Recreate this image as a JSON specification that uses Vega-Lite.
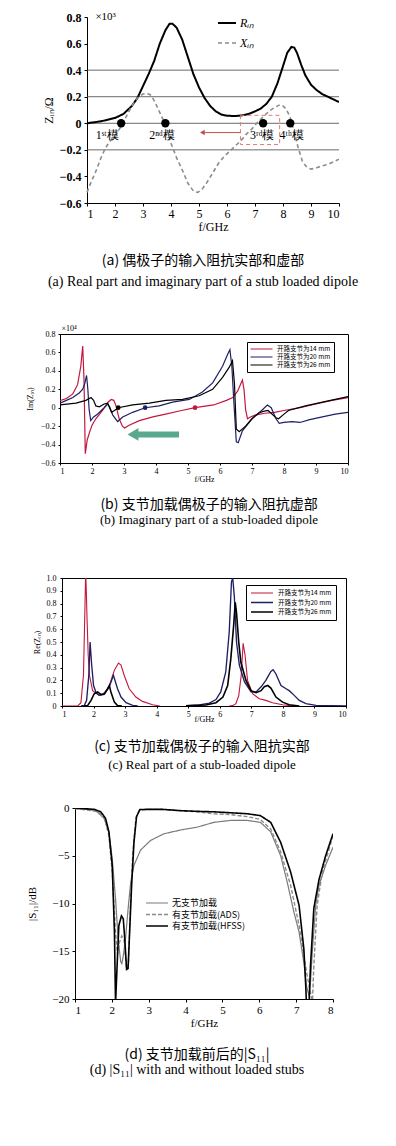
{
"$schema": "https://vega.github.io/schema/vega-lite/v6.json",
"background": "white",
"padding": {"left": 25, "top": 11, "right": 0, "bottom": 0},
"bounds": "flush",
"center": true,
"spacing": 0,
"resolve": {"scale": {"color": "independent", "strokeDash": "independent", "strokeWidth": "independent", "fill": "independent", "x": "independent", "y": "independent"}, "legend": {"color": "independent", "strokeDash": "independent", "strokeWidth": "independent", "fill": "independent"}},
"config": {
 "view": {"stroke": null},
 "font": "Liberation Serif",
 "axis": {"domainColor": "black", "tickColor": "black", "labelColor": "black", "titleColor": "black", "grid": false, "titleFontWeight": "normal", "labelFont": "Liberation Serif", "titleFont": "Liberation Serif", "labelOverlap": false}
},
"datasets": {
 "a": [
  {"s":"Rᵢₙ","f":1.0,"v":0.0},{"s":"Rᵢₙ","f":1.5,"v":0.015},{"s":"Rᵢₙ","f":2.0,"v":0.04},{"s":"Rᵢₙ","f":2.3,"v":0.07},{"s":"Rᵢₙ","f":2.6,"v":0.13},{"s":"Rᵢₙ","f":2.8,"v":0.19},{"s":"Rᵢₙ","f":3.0,"v":0.28},{"s":"Rᵢₙ","f":3.2,"v":0.37},{"s":"Rᵢₙ","f":3.4,"v":0.47},{"s":"Rᵢₙ","f":3.6,"v":0.6},{"s":"Rᵢₙ","f":3.8,"v":0.7},{"s":"Rᵢₙ","f":3.95,"v":0.75},{"s":"Rᵢₙ","f":4.05,"v":0.75},{"s":"Rᵢₙ","f":4.2,"v":0.72},{"s":"Rᵢₙ","f":4.4,"v":0.63},{"s":"Rᵢₙ","f":4.6,"v":0.5},{"s":"Rᵢₙ","f":4.8,"v":0.37},{"s":"Rᵢₙ","f":5.0,"v":0.27},{"s":"Rᵢₙ","f":5.2,"v":0.19},{"s":"Rᵢₙ","f":5.4,"v":0.13},{"s":"Rᵢₙ","f":5.6,"v":0.09},{"s":"Rᵢₙ","f":5.8,"v":0.065},{"s":"Rᵢₙ","f":6.0,"v":0.057},{"s":"Rᵢₙ","f":6.2,"v":0.055},{"s":"Rᵢₙ","f":6.4,"v":0.056},{"s":"Rᵢₙ","f":6.6,"v":0.062},{"s":"Rᵢₙ","f":6.8,"v":0.072},{"s":"Rᵢₙ","f":7.0,"v":0.09},{"s":"Rᵢₙ","f":7.2,"v":0.11},{"s":"Rᵢₙ","f":7.4,"v":0.145},{"s":"Rᵢₙ","f":7.6,"v":0.2},{"s":"Rᵢₙ","f":7.8,"v":0.3},{"s":"Rᵢₙ","f":8.0,"v":0.43},{"s":"Rᵢₙ","f":8.15,"v":0.53},{"s":"Rᵢₙ","f":8.3,"v":0.575},{"s":"Rᵢₙ","f":8.4,"v":0.57},{"s":"Rᵢₙ","f":8.5,"v":0.53},{"s":"Rᵢₙ","f":8.65,"v":0.44},{"s":"Rᵢₙ","f":8.8,"v":0.36},{"s":"Rᵢₙ","f":9.0,"v":0.29},{"s":"Rᵢₙ","f":9.2,"v":0.25},{"s":"Rᵢₙ","f":9.4,"v":0.22},{"s":"Rᵢₙ","f":9.6,"v":0.2},{"s":"Rᵢₙ","f":9.8,"v":0.18},{"s":"Rᵢₙ","f":10.0,"v":0.16},
  {"s":"Xᵢₙ","f":1.0,"v":-0.52},{"s":"Xᵢₙ","f":1.15,"v":-0.44},{"s":"Xᵢₙ","f":1.3,"v":-0.37},{"s":"Xᵢₙ","f":1.5,"v":-0.26},{"s":"Xᵢₙ","f":1.65,"v":-0.19},{"s":"Xᵢₙ","f":1.8,"v":-0.14},{"s":"Xᵢₙ","f":2.0,"v":-0.09},{"s":"Xᵢₙ","f":2.2,"v":-0.03},{"s":"Xᵢₙ","f":2.4,"v":0.05},{"s":"Xᵢₙ","f":2.6,"v":0.13},{"s":"Xᵢₙ","f":2.8,"v":0.19},{"s":"Xᵢₙ","f":3.0,"v":0.22},{"s":"Xᵢₙ","f":3.15,"v":0.225},{"s":"Xᵢₙ","f":3.3,"v":0.21},{"s":"Xᵢₙ","f":3.45,"v":0.15},{"s":"Xᵢₙ","f":3.6,"v":0.08},{"s":"Xᵢₙ","f":3.8,"v":-0.01},{"s":"Xᵢₙ","f":4.0,"v":-0.15},{"s":"Xᵢₙ","f":4.2,"v":-0.26},{"s":"Xᵢₙ","f":4.4,"v":-0.35},{"s":"Xᵢₙ","f":4.6,"v":-0.45},{"s":"Xᵢₙ","f":4.8,"v":-0.51},{"s":"Xᵢₙ","f":4.95,"v":-0.52},{"s":"Xᵢₙ","f":5.1,"v":-0.5},{"s":"Xᵢₙ","f":5.3,"v":-0.44},{"s":"Xᵢₙ","f":5.5,"v":-0.37},{"s":"Xᵢₙ","f":5.7,"v":-0.3},{"s":"Xᵢₙ","f":5.9,"v":-0.25},{"s":"Xᵢₙ","f":6.1,"v":-0.21},{"s":"Xᵢₙ","f":6.3,"v":-0.17},{"s":"Xᵢₙ","f":6.5,"v":-0.13},{"s":"Xᵢₙ","f":6.7,"v":-0.08},{"s":"Xᵢₙ","f":6.9,"v":-0.04},{"s":"Xᵢₙ","f":7.1,"v":0.01},{"s":"Xᵢₙ","f":7.3,"v":0.05},{"s":"Xᵢₙ","f":7.5,"v":0.09},{"s":"Xᵢₙ","f":7.7,"v":0.12},{"s":"Xᵢₙ","f":7.9,"v":0.14},{"s":"Xᵢₙ","f":8.0,"v":0.13},{"s":"Xᵢₙ","f":8.1,"v":0.11},{"s":"Xᵢₙ","f":8.25,"v":0.05},{"s":"Xᵢₙ","f":8.4,"v":-0.07},{"s":"Xᵢₙ","f":8.55,"v":-0.19},{"s":"Xᵢₙ","f":8.7,"v":-0.29},{"s":"Xᵢₙ","f":8.85,"v":-0.33},{"s":"Xᵢₙ","f":9.0,"v":-0.345},{"s":"Xᵢₙ","f":9.2,"v":-0.335},{"s":"Xᵢₙ","f":9.4,"v":-0.32},{"s":"Xᵢₙ","f":9.6,"v":-0.31},{"s":"Xᵢₙ","f":9.8,"v":-0.29},{"s":"Xᵢₙ","f":10.0,"v":-0.27}
 ],
 "amodes": [
  {"f":2.22,"lf":1.72,"v":0,"m":"1ˢᵗ模"},{"f":3.8,"lf":3.68,"v":0,"m":"2ⁿᵈ模"},{"f":7.29,"lf":7.26,"v":0,"m":"3ʳᵈ模"},{"f":8.26,"lf":8.31,"v":0,"m":"4ᵗʰ模"}
 ],
 "b": [
  {"s":"开路支节为14 mm","f":1.0,"v":0.077},{"s":"开路支节为14 mm","f":1.2,"v":0.1},{"s":"开路支节为14 mm","f":1.4,"v":0.15},{"s":"开路支节为14 mm","f":1.55,"v":0.25},{"s":"开路支节为14 mm","f":1.65,"v":0.45},{"s":"开路支节为14 mm","f":1.71,"v":0.67},{"s":"开路支节为14 mm","f":1.75,"v":0.3},{"s":"开路支节为14 mm","f":1.79,"v":-0.5},{"s":"开路支节为14 mm","f":1.85,"v":-0.35},{"s":"开路支节为14 mm","f":1.92,"v":-0.27},{"s":"开路支节为14 mm","f":2.0,"v":-0.19},{"s":"开路支节为14 mm","f":2.12,"v":-0.12},{"s":"开路支节为14 mm","f":2.33,"v":-0.03},{"s":"开路支节为14 mm","f":2.5,"v":0.06},{"s":"开路支节为14 mm","f":2.6,"v":0.09},{"s":"开路支节为14 mm","f":2.68,"v":0.08},{"s":"开路支节为14 mm","f":2.75,"v":0.02},{"s":"开路支节为14 mm","f":2.85,"v":-0.12},{"s":"开路支节为14 mm","f":2.95,"v":-0.2},{"s":"开路支节为14 mm","f":3.02,"v":-0.22},{"s":"开路支节为14 mm","f":3.16,"v":-0.19},{"s":"开路支节为14 mm","f":3.48,"v":-0.14},{"s":"开路支节为14 mm","f":3.9,"v":-0.1},{"s":"开路支节为14 mm","f":4.3,"v":-0.07},{"s":"开路支节为14 mm","f":4.8,"v":-0.03},{"s":"开路支节为14 mm","f":5.22,"v":0.0},{"s":"开路支节为14 mm","f":5.8,"v":0.03},{"s":"开路支节为14 mm","f":6.2,"v":0.08},{"s":"开路支节为14 mm","f":6.4,"v":0.11},{"s":"开路支节为14 mm","f":6.55,"v":0.18},{"s":"开路支节为14 mm","f":6.65,"v":0.26},{"s":"开路支节为14 mm","f":6.7,"v":0.3},{"s":"开路支节为14 mm","f":6.75,"v":0.2},{"s":"开路支节为14 mm","f":6.8,"v":-0.02},{"s":"开路支节为14 mm","f":6.86,"v":-0.12},{"s":"开路支节为14 mm","f":6.95,"v":-0.1},{"s":"开路支节为14 mm","f":7.1,"v":-0.08},{"s":"开路支节为14 mm","f":7.4,"v":-0.06},{"s":"开路支节为14 mm","f":7.7,"v":-0.05},{"s":"开路支节为14 mm","f":8.0,"v":-0.03},{"s":"开路支节为14 mm","f":8.5,"v":0.0},{"s":"开路支节为14 mm","f":9.0,"v":0.04},{"s":"开路支节为14 mm","f":9.5,"v":0.08},{"s":"开路支节为14 mm","f":10.0,"v":0.11},
  {"s":"开路支节为20 mm","f":1.0,"v":0.05},{"s":"开路支节为20 mm","f":1.2,"v":0.08},{"s":"开路支节为20 mm","f":1.4,"v":0.11},{"s":"开路支节为20 mm","f":1.6,"v":0.16},{"s":"开路支节为20 mm","f":1.71,"v":0.2},{"s":"开路支节为20 mm","f":1.78,"v":0.27},{"s":"开路支节为20 mm","f":1.83,"v":0.35},{"s":"开路支节为20 mm","f":1.87,"v":0.2},{"s":"开路支节为20 mm","f":1.91,"v":-0.02},{"s":"开路支节为20 mm","f":1.96,"v":-0.14},{"s":"开路支节为20 mm","f":2.05,"v":-0.1},{"s":"开路支节为20 mm","f":2.17,"v":-0.07},{"s":"开路支节为20 mm","f":2.38,"v":0.0},{"s":"开路支节为20 mm","f":2.49,"v":0.04},{"s":"开路支节为20 mm","f":2.55,"v":0.01},{"s":"开路支节为20 mm","f":2.65,"v":-0.08},{"s":"开路支节为20 mm","f":2.8,"v":-0.15},{"s":"开路支节为20 mm","f":2.96,"v":-0.1},{"s":"开路支节为20 mm","f":3.27,"v":-0.05},{"s":"开路支节为20 mm","f":3.66,"v":0.0},{"s":"开路支节为20 mm","f":4.1,"v":0.02},{"s":"开路支节为20 mm","f":4.52,"v":0.06},{"s":"开路支节为20 mm","f":5.04,"v":0.09},{"s":"开路支节为20 mm","f":5.45,"v":0.17},{"s":"开路支节为20 mm","f":5.77,"v":0.27},{"s":"开路支节为20 mm","f":6.08,"v":0.45},{"s":"开路支节为20 mm","f":6.24,"v":0.58},{"s":"开路支节为20 mm","f":6.31,"v":0.63},{"s":"开路支节为20 mm","f":6.37,"v":0.45},{"s":"开路支节为20 mm","f":6.44,"v":0.02},{"s":"开路支节为20 mm","f":6.51,"v":-0.37},{"s":"开路支节为20 mm","f":6.57,"v":-0.38},{"s":"开路支节为20 mm","f":6.7,"v":-0.25},{"s":"开路支节为20 mm","f":7.0,"v":-0.12},{"s":"开路支节为20 mm","f":7.3,"v":-0.03},{"s":"开路支节为20 mm","f":7.48,"v":0.03},{"s":"开路支节为20 mm","f":7.6,"v":0.0},{"s":"开路支节为20 mm","f":7.75,"v":-0.12},{"s":"开路支节为20 mm","f":7.85,"v":-0.17},{"s":"开路支节为20 mm","f":8.0,"v":-0.16},{"s":"开路支节为20 mm","f":8.25,"v":-0.15},{"s":"开路支节为20 mm","f":8.5,"v":-0.16},{"s":"开路支节为20 mm","f":8.8,"v":-0.13},{"s":"开路支节为20 mm","f":9.2,"v":-0.1},{"s":"开路支节为20 mm","f":9.6,"v":-0.07},{"s":"开路支节为20 mm","f":10.0,"v":-0.05},
  {"s":"开路支节为26 mm","f":1.0,"v":0.03},{"s":"开路支节为26 mm","f":1.5,"v":0.05},{"s":"开路支节为26 mm","f":1.81,"v":0.08},{"s":"开路支节为26 mm","f":1.97,"v":0.11},{"s":"开路支节为26 mm","f":2.05,"v":0.08},{"s":"开路支节为26 mm","f":2.12,"v":0.02},{"s":"开路支节为26 mm","f":2.23,"v":0.01},{"s":"开路支节为26 mm","f":2.38,"v":0.04},{"s":"开路支节为26 mm","f":2.49,"v":0.05},{"s":"开路支节为26 mm","f":2.55,"v":0.0},{"s":"开路支节为26 mm","f":2.61,"v":-0.05},{"s":"开路支节为26 mm","f":2.7,"v":-0.03},{"s":"开路支节为26 mm","f":2.82,"v":0.0},{"s":"开路支节为26 mm","f":3.27,"v":0.03},{"s":"开路支节为26 mm","f":3.79,"v":0.05},{"s":"开路支节为26 mm","f":4.31,"v":0.08},{"s":"开路支节为26 mm","f":4.83,"v":0.09},{"s":"开路支节为26 mm","f":5.35,"v":0.13},{"s":"开路支节为26 mm","f":5.77,"v":0.2},{"s":"开路支节为26 mm","f":6.08,"v":0.33},{"s":"开路支节为26 mm","f":6.29,"v":0.44},{"s":"开路支节为26 mm","f":6.39,"v":0.51},{"s":"开路支节为26 mm","f":6.45,"v":0.27},{"s":"开路支节为26 mm","f":6.51,"v":-0.23},{"s":"开路支节为26 mm","f":6.6,"v":-0.26},{"s":"开路支节为26 mm","f":6.8,"v":-0.2},{"s":"开路支节为26 mm","f":7.0,"v":-0.12},{"s":"开路支节为26 mm","f":7.2,"v":-0.06},{"s":"开路支节为26 mm","f":7.35,"v":-0.04},{"s":"开路支节为26 mm","f":7.5,"v":-0.03},{"s":"开路支节为26 mm","f":7.6,"v":-0.06},{"s":"开路支节为26 mm","f":7.75,"v":-0.11},{"s":"开路支节为26 mm","f":7.83,"v":-0.12},{"s":"开路支节为26 mm","f":8.0,"v":-0.07},{"s":"开路支节为26 mm","f":8.14,"v":-0.03},{"s":"开路支节为26 mm","f":8.67,"v":0.02},{"s":"开路支节为26 mm","f":9.2,"v":0.06},{"s":"开路支节为26 mm","f":9.6,"v":0.09},{"s":"开路支节为26 mm","f":10.0,"v":0.12}
 ],
 "bdots": [
  {"s":"开路支节为26 mm","f":2.82,"v":0},{"s":"开路支节为20 mm","f":3.66,"v":0},{"s":"开路支节为14 mm","f":5.22,"v":0}
 ],
 "c": [
  {"s":"开路支节为14 mm","g":1,"f":1.0,"v":0},{"s":"开路支节为14 mm","g":1,"f":1.5,"v":0},{"s":"开路支节为14 mm","g":1,"f":1.6,"v":0.026},{"s":"开路支节为14 mm","g":1,"f":1.68,"v":0.24},{"s":"开路支节为14 mm","g":1,"f":1.73,"v":0.8},{"s":"开路支节为14 mm","g":1,"f":1.75,"v":1.05},{"s":"开路支节为14 mm","g":1,"f":1.77,"v":0.9},{"s":"开路支节为14 mm","g":1,"f":1.79,"v":0.71},{"s":"开路支节为14 mm","g":1,"f":1.83,"v":0.4},{"s":"开路支节为14 mm","g":1,"f":1.87,"v":0.24},{"s":"开路支节为14 mm","g":1,"f":1.97,"v":0.12},{"s":"开路支节为14 mm","g":1,"f":2.08,"v":0.1},{"s":"开路支节为14 mm","g":1,"f":2.18,"v":0.083},{"s":"开路支节为14 mm","g":1,"f":2.29,"v":0.09},{"s":"开路支节为14 mm","g":1,"f":2.4,"v":0.12},{"s":"开路支节为14 mm","g":1,"f":2.5,"v":0.16},{"s":"开路支节为14 mm","g":1,"f":2.66,"v":0.28},{"s":"开路支节为14 mm","g":1,"f":2.79,"v":0.336},{"s":"开路支节为14 mm","g":1,"f":2.87,"v":0.32},{"s":"开路支节为14 mm","g":1,"f":2.97,"v":0.24},{"s":"开路支节为14 mm","g":1,"f":3.13,"v":0.135},{"s":"开路支节为14 mm","g":1,"f":3.34,"v":0.07},{"s":"开路支节为14 mm","g":1,"f":3.55,"v":0.036},{"s":"开路支节为14 mm","g":1,"f":3.87,"v":0.01},{"s":"开路支节为14 mm","g":1,"f":4.1,"v":0},
  {"s":"开路支节为14 mm","g":2,"f":6.3,"v":0},{"s":"开路支节为14 mm","g":2,"f":6.41,"v":0.003},{"s":"开路支节为14 mm","g":2,"f":6.51,"v":0.018},{"s":"开路支节为14 mm","g":2,"f":6.6,"v":0.08},{"s":"开路支节为14 mm","g":2,"f":6.68,"v":0.24},{"s":"开路支节为14 mm","g":2,"f":6.74,"v":0.49},{"s":"开路支节为14 mm","g":2,"f":6.8,"v":0.4},{"s":"开路支节为14 mm","g":2,"f":6.88,"v":0.2},{"s":"开路支节为14 mm","g":2,"f":7.04,"v":0.096},{"s":"开路支节为14 mm","g":2,"f":7.25,"v":0.057},{"s":"开路支节为14 mm","g":2,"f":7.46,"v":0.044},{"s":"开路支节为14 mm","g":2,"f":7.67,"v":0.026},{"s":"开路支节为14 mm","g":2,"f":7.99,"v":0.01},{"s":"开路支节为14 mm","g":2,"f":8.31,"v":0},
  {"s":"开路支节为20 mm","g":1,"f":1.6,"v":0},{"s":"开路支节为20 mm","g":1,"f":1.71,"v":0.005},{"s":"开路支节为20 mm","g":1,"f":1.78,"v":0.044},{"s":"开路支节为20 mm","g":1,"f":1.85,"v":0.24},{"s":"开路支节为20 mm","g":1,"f":1.89,"v":0.5},{"s":"开路支节为20 mm","g":1,"f":1.94,"v":0.32},{"s":"开路支节为20 mm","g":1,"f":2.0,"v":0.16},{"s":"开路支节为20 mm","g":1,"f":2.08,"v":0.104},{"s":"开路支节为20 mm","g":1,"f":2.18,"v":0.083},{"s":"开路支节为20 mm","g":1,"f":2.34,"v":0.09},{"s":"开路支节为20 mm","g":1,"f":2.5,"v":0.15},{"s":"开路支节为20 mm","g":1,"f":2.63,"v":0.24},{"s":"开路支节为20 mm","g":1,"f":2.76,"v":0.135},{"s":"开路支节为20 mm","g":1,"f":2.87,"v":0.07},{"s":"开路支节为20 mm","g":1,"f":3.03,"v":0.026},{"s":"开路支节为20 mm","g":1,"f":3.24,"v":0.005},{"s":"开路支节为20 mm","g":1,"f":3.4,"v":0},
  {"s":"开路支节为20 mm","g":2,"f":4.93,"v":0.003},{"s":"开路支节为20 mm","g":2,"f":5.35,"v":0.008},{"s":"开路支节为20 mm","g":2,"f":5.67,"v":0.023},{"s":"开路支节为20 mm","g":2,"f":5.88,"v":0.05},{"s":"开路支节为20 mm","g":2,"f":6.03,"v":0.11},{"s":"开路支节为20 mm","g":2,"f":6.19,"v":0.266},{"s":"开路支节为20 mm","g":2,"f":6.3,"v":0.58},{"s":"开路支节为20 mm","g":2,"f":6.37,"v":0.97},{"s":"开路支节为20 mm","g":2,"f":6.41,"v":1.0},{"s":"开路支节为20 mm","g":2,"f":6.46,"v":0.86},{"s":"开路支节为20 mm","g":2,"f":6.53,"v":0.5},{"s":"开路支节为20 mm","g":2,"f":6.62,"v":0.32},{"s":"开路支节为20 mm","g":2,"f":6.78,"v":0.19},{"s":"开路支节为20 mm","g":2,"f":6.99,"v":0.11},{"s":"开路支节为20 mm","g":2,"f":7.15,"v":0.11},{"s":"开路支节为20 mm","g":2,"f":7.31,"v":0.15},{"s":"开路支节为20 mm","g":2,"f":7.46,"v":0.2},{"s":"开路支节为20 mm","g":2,"f":7.62,"v":0.27},{"s":"开路支节为20 mm","g":2,"f":7.69,"v":0.284},{"s":"开路支节为20 mm","g":2,"f":7.78,"v":0.25},{"s":"开路支节为20 mm","g":2,"f":7.94,"v":0.16},{"s":"开路支节为20 mm","g":2,"f":8.1,"v":0.135},{"s":"开路支节为20 mm","g":2,"f":8.2,"v":0.12},{"s":"开路支节为20 mm","g":2,"f":8.36,"v":0.083},{"s":"开路支节为20 mm","g":2,"f":8.52,"v":0.044},{"s":"开路支节为20 mm","g":2,"f":8.73,"v":0.018},{"s":"开路支节为20 mm","g":2,"f":9.05,"v":0.005},{"s":"开路支节为20 mm","g":2,"f":10.0,"v":0},
  {"s":"开路支节为26 mm","g":1,"f":1.7,"v":0},{"s":"开路支节为26 mm","g":1,"f":1.81,"v":0.003},{"s":"开路支节为26 mm","g":1,"f":1.92,"v":0.044},{"s":"开路支节为26 mm","g":1,"f":2.02,"v":0.096},{"s":"开路支节为26 mm","g":1,"f":2.13,"v":0.11},{"s":"开路支节为26 mm","g":1,"f":2.23,"v":0.09},{"s":"开路支节为26 mm","g":1,"f":2.34,"v":0.095},{"s":"开路支节为26 mm","g":1,"f":2.45,"v":0.135},{"s":"开路支节为26 mm","g":1,"f":2.5,"v":0.16},{"s":"开路支节为26 mm","g":1,"f":2.55,"v":0.11},{"s":"开路支节为26 mm","g":1,"f":2.66,"v":0.03},{"s":"开路支节为26 mm","g":1,"f":2.76,"v":0.003},{"s":"开路支节为26 mm","g":1,"f":2.9,"v":0},
  {"s":"开路支节为26 mm","g":2,"f":4.93,"v":0.002},{"s":"开路支节为26 mm","g":2,"f":5.56,"v":0.008},{"s":"开路支节为26 mm","g":2,"f":5.88,"v":0.026},{"s":"开路支节为26 mm","g":2,"f":6.1,"v":0.07},{"s":"开路支节为26 mm","g":2,"f":6.25,"v":0.16},{"s":"开路支节为26 mm","g":2,"f":6.35,"v":0.37},{"s":"开路支节为26 mm","g":2,"f":6.44,"v":0.63},{"s":"开路支节为26 mm","g":2,"f":6.49,"v":0.81},{"s":"开路支节为26 mm","g":2,"f":6.53,"v":0.73},{"s":"开路支节为26 mm","g":2,"f":6.6,"v":0.5},{"s":"开路支节为26 mm","g":2,"f":6.67,"v":0.34},{"s":"开路支节为26 mm","g":2,"f":6.83,"v":0.2},{"s":"开路支节为26 mm","g":2,"f":6.99,"v":0.12},{"s":"开路支节为26 mm","g":2,"f":7.15,"v":0.104},{"s":"开路支节为26 mm","g":2,"f":7.31,"v":0.12},{"s":"开路支节为26 mm","g":2,"f":7.41,"v":0.15},{"s":"开路支节为26 mm","g":2,"f":7.52,"v":0.16},{"s":"开路支节为26 mm","g":2,"f":7.62,"v":0.14},{"s":"开路支节为26 mm","g":2,"f":7.78,"v":0.07},{"s":"开路支节为26 mm","g":2,"f":7.99,"v":0.03},{"s":"开路支节为26 mm","g":2,"f":8.2,"v":0.01},{"s":"开路支节为26 mm","g":2,"f":8.52,"v":0}
 ],
 "d": [
  {"s":"无支节加载","f":1.0,"v":-0.07},{"s":"无支节加载","f":1.42,"v":-0.17},{"s":"无支节加载","f":1.6,"v":-0.4},{"s":"无支节加载","f":1.79,"v":-1.1},{"s":"无支节加载","f":1.92,"v":-2.5},{"s":"无支节加载","f":2.01,"v":-5.3},{"s":"无支节加载","f":2.1,"v":-9.5},{"s":"无支节加载","f":2.17,"v":-13.7},{"s":"无支节加载","f":2.24,"v":-16.1},{"s":"无支节加载","f":2.27,"v":-16.3},{"s":"无支节加载","f":2.31,"v":-15.5},{"s":"无支节加载","f":2.37,"v":-13.7},{"s":"无支节加载","f":2.44,"v":-10.6},{"s":"无支节加载","f":2.51,"v":-7.8},{"s":"无支节加载","f":2.6,"v":-6.0},{"s":"无支节加载","f":2.78,"v":-4.4},{"s":"无支节加载","f":3.05,"v":-3.4},{"s":"无支节加载","f":3.41,"v":-2.7},{"s":"无支节加载","f":3.87,"v":-2.3},{"s":"无支节加载","f":4.32,"v":-2.0},{"s":"无支节加载","f":4.77,"v":-1.5},{"s":"无支节加载","f":5.22,"v":-1.3},{"s":"无支节加载","f":5.67,"v":-1.3},{"s":"无支节加载","f":6.03,"v":-1.5},{"s":"无支节加载","f":6.31,"v":-2.5},{"s":"无支节加载","f":6.58,"v":-5.0},{"s":"无支节加载","f":6.76,"v":-7.8},{"s":"无支节加载","f":6.94,"v":-10.9},{"s":"无支节加载","f":7.08,"v":-13.0},{"s":"无支节加载","f":7.21,"v":-16.2},{"s":"无支节加载","f":7.28,"v":-18.6},{"s":"无支节加载","f":7.35,"v":-19.7},{"s":"无支节加载","f":7.39,"v":-18.2},{"s":"无支节加载","f":7.44,"v":-15.0},{"s":"无支节加载","f":7.53,"v":-10.2},{"s":"无支节加载","f":7.62,"v":-8.1},{"s":"无支节加载","f":7.8,"v":-6.0},{"s":"无支节加载","f":8.0,"v":-4.1},
  {"s":"有支节加载(ADS)","f":1.0,"v":-0.07},{"s":"有支节加载(ADS)","f":1.6,"v":-0.35},{"s":"有支节加载(ADS)","f":1.79,"v":-0.9},{"s":"有支节加载(ADS)","f":1.92,"v":-2.9},{"s":"有支节加载(ADS)","f":2.01,"v":-6.7},{"s":"有支节加载(ADS)","f":2.1,"v":-13.0},{"s":"有支节加载(ADS)","f":2.15,"v":-15.3},{"s":"有支节加载(ADS)","f":2.21,"v":-14.0},{"s":"有支节加载(ADS)","f":2.27,"v":-13.4},{"s":"有支节加载(ADS)","f":2.33,"v":-13.8},{"s":"有支节加载(ADS)","f":2.39,"v":-16.5},{"s":"有支节加载(ADS)","f":2.45,"v":-16.2},{"s":"有支节加载(ADS)","f":2.51,"v":-9.5},{"s":"有支节加载(ADS)","f":2.57,"v":-4.6},{"s":"有支节加载(ADS)","f":2.65,"v":-1.1},{"s":"有支节加载(ADS)","f":2.74,"v":-0.25},{"s":"有支节加载(ADS)","f":2.96,"v":-0.14},{"s":"有支节加载(ADS)","f":3.41,"v":-0.15},{"s":"有支节加载(ADS)","f":3.87,"v":-0.3},{"s":"有支节加载(ADS)","f":4.32,"v":-0.4},{"s":"有支节加载(ADS)","f":4.77,"v":-0.6},{"s":"有支节加载(ADS)","f":5.22,"v":-0.7},{"s":"有支节加载(ADS)","f":5.67,"v":-0.9},{"s":"有支节加载(ADS)","f":6.03,"v":-1.2},{"s":"有支节加载(ADS)","f":6.31,"v":-2.2},{"s":"有支节加载(ADS)","f":6.58,"v":-4.6},{"s":"有支节加载(ADS)","f":6.85,"v":-8.1},{"s":"有支节加载(ADS)","f":7.08,"v":-12.3},{"s":"有支节加载(ADS)","f":7.21,"v":-15.5},{"s":"有支节加载(ADS)","f":7.3,"v":-17.6},{"s":"有支节加载(ADS)","f":7.39,"v":-19.3},{"s":"有支节加载(ADS)","f":7.44,"v":-20.5},{"s":"有支节加载(ADS)","f":7.48,"v":-16.5},{"s":"有支节加载(ADS)","f":7.57,"v":-10.2},{"s":"有支节加载(ADS)","f":7.71,"v":-6.7},{"s":"有支节加载(ADS)","f":7.84,"v":-5.0},{"s":"有支节加载(ADS)","f":8.0,"v":-2.9},
  {"s":"有支节加载(HFSS)","f":1.0,"v":0.0},{"s":"有支节加载(HFSS)","f":1.52,"v":-0.14},{"s":"有支节加载(HFSS)","f":1.7,"v":-0.4},{"s":"有支节加载(HFSS)","f":1.83,"v":-1.1},{"s":"有支节加载(HFSS)","f":1.92,"v":-2.5},{"s":"有支节加载(HFSS)","f":2.01,"v":-6.0},{"s":"有支节加载(HFSS)","f":2.07,"v":-13.0},{"s":"有支节加载(HFSS)","f":2.1,"v":-20.5},{"s":"有支节加载(HFSS)","f":2.15,"v":-15.8},{"s":"有支节加载(HFSS)","f":2.19,"v":-12.3},{"s":"有支节加载(HFSS)","f":2.26,"v":-11.3},{"s":"有支节加载(HFSS)","f":2.31,"v":-11.6},{"s":"有支节加载(HFSS)","f":2.35,"v":-13.7},{"s":"有支节加载(HFSS)","f":2.4,"v":-16.9},{"s":"有支节加载(HFSS)","f":2.44,"v":-16.8},{"s":"有支节加载(HFSS)","f":2.49,"v":-12.3},{"s":"有支节加载(HFSS)","f":2.54,"v":-7.8},{"s":"有支节加载(HFSS)","f":2.6,"v":-3.6},{"s":"有支节加载(HFSS)","f":2.67,"v":-0.9},{"s":"有支节加载(HFSS)","f":2.76,"v":-0.17},{"s":"有支节加载(HFSS)","f":2.96,"v":-0.14},{"s":"有支节加载(HFSS)","f":3.41,"v":-0.15},{"s":"有支节加载(HFSS)","f":3.87,"v":-0.28},{"s":"有支节加载(HFSS)","f":4.32,"v":-0.35},{"s":"有支节加载(HFSS)","f":4.77,"v":-0.4},{"s":"有支节加载(HFSS)","f":5.22,"v":-0.5},{"s":"有支节加载(HFSS)","f":5.67,"v":-0.6},{"s":"有支节加载(HFSS)","f":6.03,"v":-0.8},{"s":"有支节加载(HFSS)","f":6.31,"v":-1.5},{"s":"有支节加载(HFSS)","f":6.58,"v":-3.6},{"s":"有支节加载(HFSS)","f":6.85,"v":-6.7},{"s":"有支节加载(HFSS)","f":7.08,"v":-10.2},{"s":"有支节加载(HFSS)","f":7.21,"v":-14.8},{"s":"有支节加载(HFSS)","f":7.26,"v":-18.6},{"s":"有支节加载(HFSS)","f":7.28,"v":-20.5},{"s":"有支节加载(HFSS)","f":7.35,"v":-20.5},{"s":"有支节加载(HFSS)","f":7.39,"v":-16.5},{"s":"有支节加载(HFSS)","f":7.48,"v":-10.5},{"s":"有支节加载(HFSS)","f":7.62,"v":-7.5},{"s":"有支节加载(HFSS)","f":7.8,"v":-5.0},{"s":"有支节加载(HFSS)","f":8.0,"v":-2.7}
 ]
},
"vconcat": [
 {
  "width": 270, "height": 186,
  "resolve": {"axis": {"x": "independent", "y": "independent"}},
  "title": {"text": "(a) 偶极子的输入阻抗实部和虚部", "subtitle": "(a) Real part and imaginary part of a stub loaded dipole", "orient": "bottom", "anchor": "middle", "frame": "group", "offset": 22, "dx": -1, "font": "Noto Sans CJK SC", "fontSize": 14, "fontWeight": "normal", "color": "black", "subtitleFont": "Liberation Serif", "subtitleFontSize": 14, "subtitleColor": "black", "subtitlePadding": 7},
  "layer": [
   {"data": {"values": [{"g":0.4},{"g":0.2},{"g":0},{"g":-0.2}]},
    "mark": {"type": "rule", "color": "#444444", "strokeWidth": 0.8},
    "encoding": {"y": {"field": "g", "type": "quantitative", "scale": {"domain": [-0.6, 0.8], "nice": false, "zero": false},
      "axis": {"title": "Zᵢₙ/Ω", "orient": "left", "offset": -18, "values": [-0.6,-0.4,-0.2,0,0.2,0.4,0.6,0.8], "labelOverlap": false, "labelExpr": "datum.value == 0 ? '0' : replace(format(datum.value, '.1f'), '-', '−')", "labelFontSize": 12, "labelFontWeight": "bold", "titleFontSize": 12, "titlePadding": 4, "labelPadding": 3, "tickSize": 3}},
     "x": {"datum": 1, "type": "quantitative", "scale": {"domain": [1, 10], "range": [18, 270], "nice": false, "zero": false},
       "axis": {"title": "f/GHz", "orient": "bottom", "values": [1,2,3,4,5,6,7,8,9,10], "labelOverlap": false, "format": "d", "labelFontSize": 12, "titleFontSize": 12, "titlePadding": 2, "tickSize": 3}},
     "x2": {"datum": 10}}},
   {"data": {"name": "a"},
    "mark": {"type": "line", "clip": true},
    "encoding": {
     "x": {"field": "f", "type": "quantitative", "axis": null},
     "y": {"field": "v", "type": "quantitative", "axis": null},
     "color": {"field": "s", "type": "nominal", "scale": {"domain": ["Rᵢₙ","Xᵢₙ"], "range": ["#000000","#8c8c8c"]},
       "legend": {"orient": "none", "legendX": 148, "legendY": -4, "title": null, "symbolType": "stroke", "symbolSize": 324, "symbolStrokeWidth": 2, "labelFont": "Liberation Serif", "labelFontSize": 12, "labelFontStyle": "italic", "rowPadding": 4, "padding": 0, "labelOffset": 3}},
     "strokeDash": {"field": "s", "type": "nominal", "scale": {"domain": ["Rᵢₙ","Xᵢₙ"], "range": [[1,0],[4,3]]},
       "legend": {"orient": "none", "legendX": 148, "legendY": -4, "title": null, "symbolType": "stroke", "symbolSize": 324, "symbolStrokeWidth": 2, "labelFont": "Liberation Serif", "labelFontSize": 12, "labelFontStyle": "italic", "rowPadding": 4, "padding": 0, "labelOffset": 3}},
     "strokeWidth": {"field": "s", "type": "nominal", "scale": {"domain": ["Rᵢₙ","Xᵢₙ"], "range": [2, 1.6]}, "legend": null}
    }},
   {"data": {"values": [{"x1": 6.48, "x2": 7.88, "y1": 0.06, "y2": -0.16}]},
    "mark": {"type": "rect", "fill": null, "fillOpacity": 0, "stroke": "#e07a7a", "strokeWidth": 1, "strokeDash": [4, 3]},
    "encoding": {"x": {"field": "x1", "type": "quantitative", "axis": null}, "x2": {"field": "x2"}, "y": {"field": "y1", "type": "quantitative", "axis": null}, "y2": {"field": "y2"}}},
   {"data": {"values": [{"x1": 6.48, "x2": 5.15, "y": -0.07}]},
    "mark": {"type": "rule", "color": "#c0504d", "strokeWidth": 1},
    "encoding": {"x": {"field": "x1", "type": "quantitative", "axis": null}, "x2": {"field": "x2"}, "y": {"field": "y", "type": "quantitative", "axis": null}}},
   {"data": {"values": [{"x": 5.12, "y": -0.07}]},
    "mark": {"type": "point", "shape": "triangle-left", "filled": true, "color": "#c0504d", "size": 30, "opacity": 1},
    "encoding": {"x": {"field": "x", "type": "quantitative", "axis": null}, "y": {"field": "y", "type": "quantitative", "axis": null}}},
   {"data": {"name": "amodes"},
    "mark": {"type": "point", "filled": true, "color": "black", "size": 70, "opacity": 1},
    "encoding": {"x": {"field": "f", "type": "quantitative", "axis": null}, "y": {"field": "v", "type": "quantitative", "axis": null}}},
   {"data": {"name": "amodes"},
    "mark": {"type": "text", "fontSize": 12, "font": "Liberation Serif", "baseline": "middle", "align": "center", "color": "black"},
    "encoding": {"x": {"field": "lf", "type": "quantitative", "axis": null}, "y": {"datum": -0.09, "axis": null}, "text": {"field": "m"}}},
   {"data": {"values": [{"t": "×10³"}]},
    "mark": {"type": "text", "fontSize": 11, "font": "Liberation Serif", "align": "left", "baseline": "middle", "color": "black"},
    "encoding": {"x": {"datum": 1.3, "axis": null}, "y": {"datum": 0.8, "axis": null}, "text": {"field": "t"}}}
  ]
 },
 {"width": 10, "height": 131, "data": {"values": [{}]}, "mark": {"type": "point", "opacity": 0}},
 {
  "width": 288, "height": 129,
  "view": {"stroke": "black", "strokeWidth": 1},
  "resolve": {"axis": {"x": "independent", "y": "independent"}},
  "title": {"text": "(b) 支节加载偶极子的输入阻抗虚部", "subtitle": "(b) Imaginary part of a stub-loaded dipole", "orient": "bottom", "anchor": "middle", "frame": "group", "offset": 15, "dx": 5, "font": "Noto Sans CJK SC", "fontSize": 14, "fontWeight": "normal", "color": "black", "subtitleFont": "Liberation Serif", "subtitleFontSize": 13, "subtitleColor": "black", "subtitlePadding": 2},
  "layer": [
   {"data": {"name": "b"},
    "mark": {"type": "line", "clip": true, "strokeWidth": 1.2},
    "encoding": {
     "x": {"field": "f", "type": "quantitative", "scale": {"domain": [1, 10], "nice": false, "zero": false},
       "axis": {"title": "f/GHz", "orient": "bottom", "values": [1,2,3,4,5,6,7,8,9,10], "labelOverlap": false, "format": "d", "labelFontSize": 8, "titleFontSize": 8, "titlePadding": 0, "tickSize": 2, "labelPadding": 2}},
     "y": {"field": "v", "type": "quantitative", "scale": {"domain": [-0.6, 0.8], "nice": false, "zero": false},
       "axis": {"title": "Im(Zᵢₙ)", "orient": "left", "values": [-0.6,-0.4,-0.2,0,0.2,0.4,0.6,0.8], "labelOverlap": false, "labelExpr": "datum.value == 0 ? '0' : format(datum.value, '.1f')", "labelFontSize": 8, "titleFontSize": 8, "titlePadding": 6, "labelPadding": 3, "tickSize": 2}},
     "color": {"field": "s", "type": "nominal", "scale": {"domain": ["开路支节为14 mm","开路支节为20 mm","开路支节为26 mm"], "range": ["#c4163f","#1f1f66","#000000"]},
       "legend": {"orient": "none", "legendX": 187, "legendY": 8, "title": null, "symbolType": "stroke", "symbolSize": 484, "symbolStrokeWidth": 1, "labelFont": "Noto Sans CJK SC", "labelFontSize": 6.5, "rowPadding": 0, "clipHeight": 8, "padding": 3, "strokeColor": "black", "fillColor": "white", "labelOffset": 4}}
    }},
   {"data": {"name": "bdots"},
    "mark": {"type": "point", "filled": true, "size": 22, "opacity": 1},
    "encoding": {"x": {"field": "f", "type": "quantitative", "axis": null}, "y": {"field": "v", "type": "quantitative", "axis": null},
     "fill": {"field": "s", "type": "nominal", "scale": {"domain": ["开路支节为14 mm","开路支节为20 mm","开路支节为26 mm"], "range": ["#c4163f","#1f1f66","#000000"]}, "legend": null}}},
   {"data": {"values": [{"x1": 4.72, "x2": 3.35, "y": -0.29}]},
    "mark": {"type": "rule", "color": "#5aa98c", "strokeWidth": 6},
    "encoding": {"x": {"field": "x1", "type": "quantitative", "axis": null}, "x2": {"field": "x2"}, "y": {"field": "y", "type": "quantitative", "axis": null}}},
   {"data": {"values": [{"x": 3.28, "y": -0.29}]},
    "mark": {"type": "point", "shape": "triangle-left", "filled": true, "color": "#5aa98c", "size": 160, "opacity": 1},
    "encoding": {"x": {"field": "x", "type": "quantitative", "axis": null}, "y": {"field": "y", "type": "quantitative", "axis": null}}},
   {"data": {"values": [{"t": "×10⁴"}]},
    "mark": {"type": "text", "fontSize": 8, "font": "Liberation Serif", "align": "left", "baseline": "bottom", "dy": -1, "color": "black"},
    "encoding": {"x": {"datum": 1.05, "axis": null}, "y": {"datum": 0.8, "axis": null}, "text": {"field": "t"}}}
  ]
 },
 {"width": 10, "height": 115, "data": {"values": [{}]}, "mark": {"type": "point", "opacity": 0}},
 {
  "width": 284, "height": 128,
  "view": {"stroke": "black", "strokeWidth": 1},
  "title": {"text": "(c) 支节加载偶极子的输入阻抗实部", "subtitle": "(c) Real part of a stub-loaded dipole", "orient": "bottom", "anchor": "middle", "frame": "group", "offset": 17, "dx": -2, "font": "Noto Sans CJK SC", "fontSize": 14, "fontWeight": "normal", "color": "black", "subtitleFont": "Liberation Serif", "subtitleFontSize": 13, "subtitleColor": "black", "subtitlePadding": 5},
  "layer": [
   {"data": {"name": "c"},
    "mark": {"type": "line", "clip": true},
    "encoding": {
     "x": {"field": "f", "type": "quantitative", "scale": {"domain": [1, 10], "nice": false, "zero": false},
       "axis": {"title": "f/GHz", "values": [1,2,3,4,5,6,7,8,9,10], "labelOverlap": false, "format": "d", "labelFontSize": 8, "titleFontSize": 8, "titlePadding": -3, "tickSize": 2, "labelPadding": 2}},
     "y": {"field": "v", "type": "quantitative", "scale": {"domain": [0, 1], "nice": false, "zero": false},
       "axis": {"title": "Re(Zᵢₙ)", "values": [0,0.1,0.2,0.3,0.4,0.5,0.6,0.7,0.8,0.9,1.0], "labelOverlap": false, "labelExpr": "datum.value == 0 ? '0' : format(datum.value, '.1f')", "labelFontSize": 8, "titleFontSize": 8, "titlePadding": 5, "labelPadding": 4, "tickSize": 2}},
     "detail": {"field": "g"},
     "color": {"field": "s", "type": "nominal", "scale": {"domain": ["开路支节为14 mm","开路支节为20 mm","开路支节为26 mm"], "range": ["#c4163f","#1f1f66","#000000"]},
       "legend": {"orient": "none", "legendX": 184, "legendY": 7, "title": null, "symbolType": "stroke", "symbolSize": 484, "labelFont": "Noto Sans CJK SC", "labelFontSize": 6.5, "rowPadding": 1.5, "clipHeight": 8, "padding": 4, "strokeColor": "black", "fillColor": "white", "labelOffset": 4}},
     "strokeWidth": {"field": "s", "type": "nominal", "scale": {"domain": ["开路支节为14 mm","开路支节为20 mm","开路支节为26 mm"], "range": [1.1, 1.6, 2.4]},
       "legend": {"orient": "none", "legendX": 184, "legendY": 7, "title": null, "symbolType": "stroke", "symbolSize": 484, "labelFont": "Noto Sans CJK SC", "labelFontSize": 6.5, "rowPadding": 1.5, "clipHeight": 8, "padding": 4, "strokeColor": "black", "fillColor": "white", "labelOffset": 4}}
    }}
  ]
 },
 {"width": 10, "height": 102, "data": {"values": [{}]}, "mark": {"type": "point", "opacity": 0}},
 {
  "width": 258, "height": 191,
  "title": {"text": "(d) 支节加载前后的|S₁₁|", "subtitle": "(d) |S₁₁| with and without loaded stubs", "orient": "bottom", "anchor": "middle", "frame": "group", "offset": 20, "dx": -7, "font": "Noto Sans CJK SC", "fontSize": 14, "fontWeight": "normal", "color": "black", "subtitleFont": "Liberation Serif", "subtitleFontSize": 14, "subtitleColor": "black", "subtitlePadding": 1},
  "layer": [
   {"data": {"name": "d"},
    "mark": {"type": "line", "clip": true},
    "encoding": {
     "x": {"field": "f", "type": "quantitative", "scale": {"domain": [1, 8], "nice": false, "zero": false},
       "axis": {"title": "f/GHz", "values": [1,2,3,4,5,6,7,8], "format": "d", "labelFontSize": 11, "titleFontSize": 11, "titlePadding": 2, "tickSize": 3}},
     "y": {"field": "v", "type": "quantitative", "scale": {"domain": [-20, 0], "nice": false, "zero": false},
       "axis": {"title": "|S₁₁|/dB", "values": [-20,-15,-10,-5,0], "labelExpr": "replace(format(datum.value, 'd'), '-', '−')", "labelFontSize": 11, "titleFontSize": 11, "titlePadding": 14, "labelPadding": 3, "tickSize": 3}},
     "color": {"field": "s", "type": "nominal", "scale": {"domain": ["无支节加载","有支节加载(ADS)","有支节加载(HFSS)"], "range": ["#7a7a7a","#8a8a8a","#000000"]},
       "legend": {"orient": "none", "legendX": 70, "legendY": 90, "title": null, "symbolType": "stroke", "symbolSize": 484, "labelFont": "Noto Sans CJK SC", "labelFontSize": 9, "rowPadding": 1.5, "clipHeight": 10, "padding": 0, "labelOffset": 3}},
     "strokeDash": {"field": "s", "type": "nominal", "scale": {"domain": ["无支节加载","有支节加载(ADS)","有支节加载(HFSS)"], "range": [[1,0],[4,2],[1,0]]},
       "legend": {"orient": "none", "legendX": 70, "legendY": 90, "title": null, "symbolType": "stroke", "symbolSize": 484, "labelFont": "Noto Sans CJK SC", "labelFontSize": 9, "rowPadding": 1.5, "clipHeight": 10, "padding": 0, "labelOffset": 3}},
     "strokeWidth": {"field": "s", "type": "nominal", "scale": {"domain": ["无支节加载","有支节加载(ADS)","有支节加载(HFSS)"], "range": [1.2, 1.6, 1.8]},
       "legend": {"orient": "none", "legendX": 70, "legendY": 90, "title": null, "symbolType": "stroke", "symbolSize": 484, "labelFont": "Noto Sans CJK SC", "labelFontSize": 9, "rowPadding": 1.5, "clipHeight": 10, "padding": 0, "labelOffset": 3}}
    }}
  ]
 }
]
}
